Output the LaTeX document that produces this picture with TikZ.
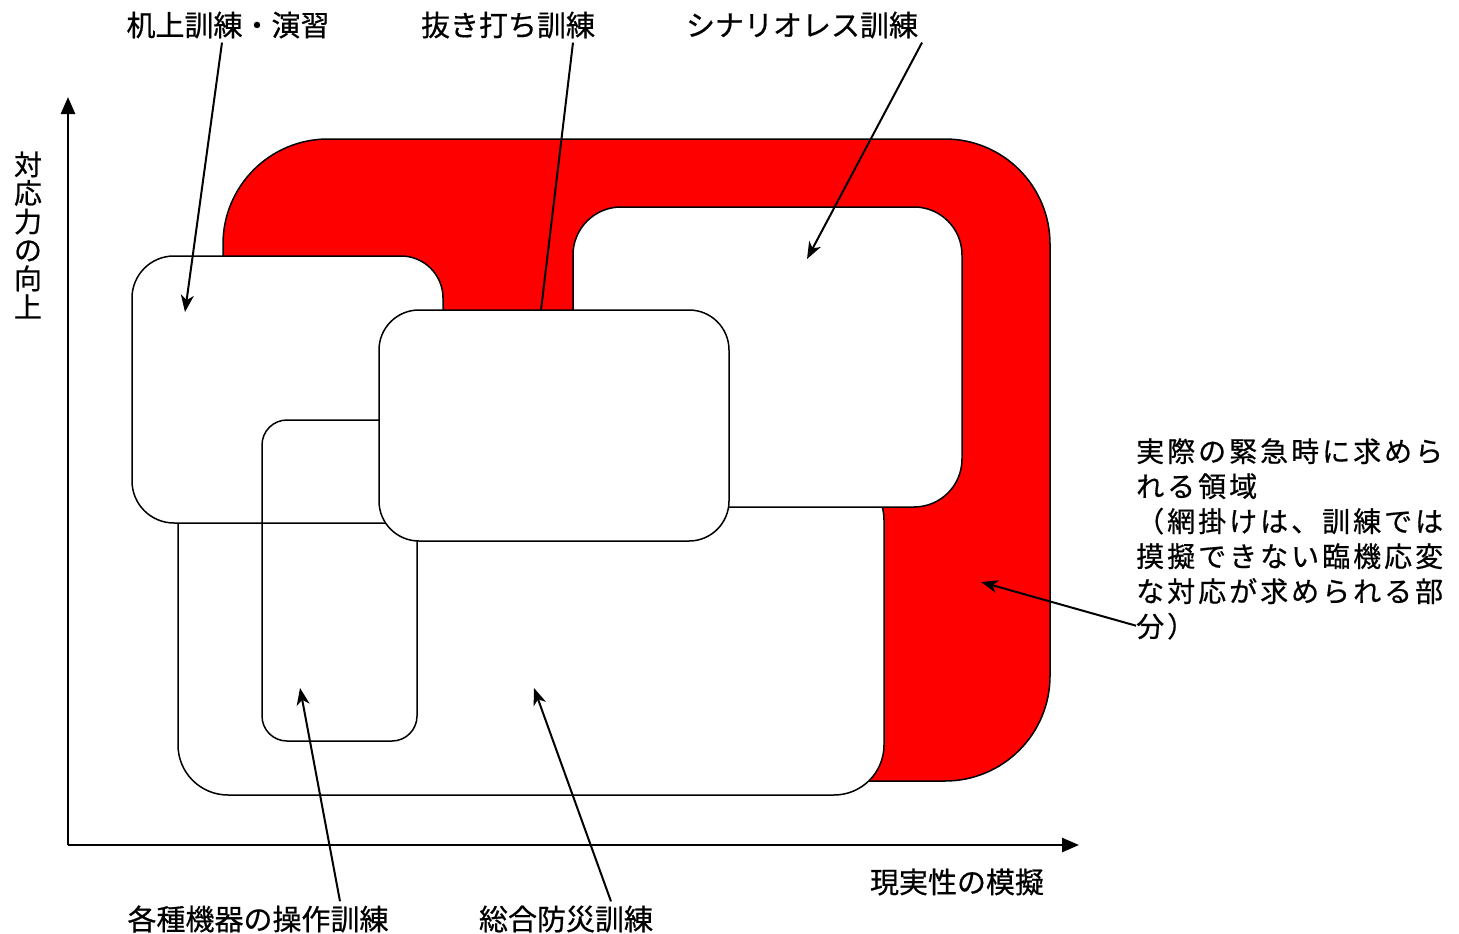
\documentclass[tikz,border=0pt]{standalone}
\usepackage{fontspec}
\setmainfont{Noto Sans CJK JP}[FakeBold=0.6]
\usetikzlibrary{arrows.meta}
\begin{document}
\begin{tikzpicture}[x=1pt,y=-1pt,
  box/.style={draw=black, line width=1.5pt, fill=white, rectangle, inner sep=0pt, outer sep=0pt},
  openbox/.style={draw=black, line width=1.5pt, rectangle, inner sep=0pt, outer sep=0pt},
  lab/.style={font=\fontsize{29}{34}\selectfont, inner sep=4pt},
  callout/.style={line width=2pt, -{Stealth[length=17pt,width=13pt,inset=5pt]}},
  axis/.style={line width=2.5pt, -{Triangle[length=17pt,width=14pt]}}]
\useasboundingbox (0,0) rectangle (1459,934);

% axes
\coordinate (o) at (68,845);
\coordinate (ytip) at (68,97);
\coordinate (xtip) at (1079,845);
\draw[axis] (o) -- (ytip);
\draw[axis] (o) -- (xtip);
\node[lab, align=center, font=\fontsize{28}{28.5}\selectfont] (yl) at (28,235) {対\\応\\力\\の\\向\\上};
\node[lab] (xl) at (957,882) {現実性の模擬};

% red region
\node[box, fill=red, rounded corners=105pt, minimum width=827pt, minimum height=642pt] (real) at (636.5,460) {};

% boxes
\node[box, rounded corners=50pt, minimum width=706pt, minimum height=325pt] (sogo) at (531,632.5) {};
\node[box, rounded corners=42pt, minimum width=311pt, minimum height=267pt] (kijo) at (287.5,389.5) {};
\node[openbox, rounded corners=25pt, minimum width=155pt, minimum height=321pt] (sosa) at (339.5,580.5) {};
\node[box, rounded corners=48pt, minimum width=389pt, minimum height=300pt] (scen) at (767.5,357) {};

% labels
\node[lab] (l1) at (228,25) {机上訓練・演習};
\node[lab] (l2) at (508,25) {抜き打ち訓練};
\node[lab] (l3) at (802,25) {シナリオレス訓練};
\node[lab] (l4) at (258,919) {各種機器の操作訓練};
\node[lab] (l5) at (566,919) {総合防災訓練};
\node[anchor=north west, inner sep=0pt, align=left,
      font=\fontsize{28}{35}\selectfont\addfontfeature{LetterSpace=10.7}] (rl) at (1136,438)
  {実際の緊急時に求めら\\れる領域\\（網掛けは、訓練では\\摸擬できない臨機応変\\な対応が求められる部\\分）};

% connector hidden under the surprise-drill box
\coordinate (t2) at (536,352);
\draw[callout] ([xshift=65pt]l2.south) -- (t2);
\node[box, rounded corners=40pt, minimum width=350pt, minimum height=231pt] (nuki) at (554,425.5) {};

% other connectors
\coordinate (t1) at (185,312);
\coordinate (t3) at (807,259);
\coordinate (t4) at (300,688);
\coordinate (t5) at (534,688);
\coordinate (t6) at (981,582);
\draw[callout] ([xshift=-6pt]l1.south) -- (t1);
\draw[callout] ([xshift=120pt]l3.south) -- (t3);
\draw[callout] ([xshift=82pt]l4.north) -- (t4);
\draw[callout] ([xshift=45pt]l5.north) -- (t5);
\draw[callout] ([yshift=14pt]rl.south west) -- (t6);
\end{tikzpicture}
\end{document}
